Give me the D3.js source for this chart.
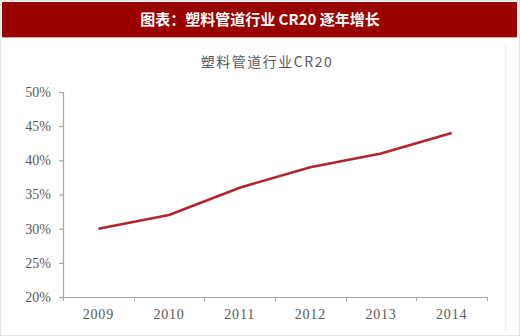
<!DOCTYPE html>
<html><head><meta charset="utf-8">
<script src="https://cdn.jsdelivr.net/npm/d3@7"></script>
<style>html,body{margin:0;padding:0;background:#fff;}svg{display:block;}</style>
</head><body>
<script>
const years = ["2009","2010","2011","2012","2013","2014"];
const cr20 = [0.30,0.32,0.36,0.39,0.41,0.44];
const yTicks = [0.20,0.25,0.30,0.35,0.40,0.45,0.50];
const headerText = "图表：塑料管道行业 CR20 逐年增长";
const chartTitle = "塑料管道行业CR20";

const W=520,H=336;
const svg=d3.select("body").append("svg").attr("width",W).attr("height",H);
svg.append("rect").attr("x",0.5).attr("y",0.5).attr("width",W-1).attr("height",H-1).attr("fill","#fff").attr("stroke","#e4e4e4");
svg.append("rect").attr("x",2).attr("y",2).attr("width",515).attr("height",35).attr("fill","#990000");
svg.append("line").attr("x1",2).attr("x2",517).attr("y1",37.5).attr("y2",37.5).attr("stroke","#d9a0a0");
svg.append("text").attr("x",260).attr("y",25).attr("text-anchor","middle")
  .attr("fill","#fff").attr("font-family","'Noto Sans CJK SC','Liberation Serif',serif").attr("font-weight","bold").attr("font-size",15)
  .text(headerText);
svg.append("line").attr("x1",505.5).attr("x2",505.5).attr("y1",45).attr("y2",332).attr("stroke","#eeeeee");

svg.append("text").attr("x",267).attr("y",67).attr("text-anchor","middle")
  .attr("fill","#595959").attr("font-family","'Noto Sans CJK SC','Liberation Serif',serif").attr("font-size",14).attr("letter-spacing",1.5)
  .text(chartTitle);

const x=d3.scaleBand().domain(years).range([63,487]);
const y=d3.scaleLinear().domain([0.20,0.50]).range([297,92]);

const gy=svg.append("g").attr("transform","translate(63,0)")
  .call(d3.axisLeft(y).tickValues(yTicks).tickFormat(d3.format(".0%")).tickSizeOuter(0).tickSize(4).tickPadding(8));
const gx=svg.append("g").attr("transform","translate(0,297)")
  .call(d3.axisBottom(x).tickSize(0).tickSizeOuter(0).tickPadding(12));
const bounds=years.map(d=>x(d)).concat([x.range()[1]]);
svg.append("g").selectAll("line").data(bounds).join("line")
  .attr("x1",d=>Math.round(d)+0.5).attr("x2",d=>Math.round(d)+0.5).attr("y1",297).attr("y2",301).attr("stroke","#a6a6a6");
[gx,gy].forEach(g=>{
  g.selectAll("path,line").attr("stroke","#a6a6a6").attr("stroke-width",1.2);
  g.selectAll("text").attr("fill","#595959").attr("font-family","'Liberation Serif',serif").attr("font-size",14);
});
gx.selectAll("text").attr("letter-spacing",0.8);

const line=d3.line().x((d,i)=>x(years[i])+x.bandwidth()/2).y(d=>y(d));
svg.append("path").datum(cr20).attr("d",line).attr("fill","none").attr("stroke","#b0262c").attr("stroke-width",2.6).attr("stroke-linejoin","round");
</script>
</body></html>
